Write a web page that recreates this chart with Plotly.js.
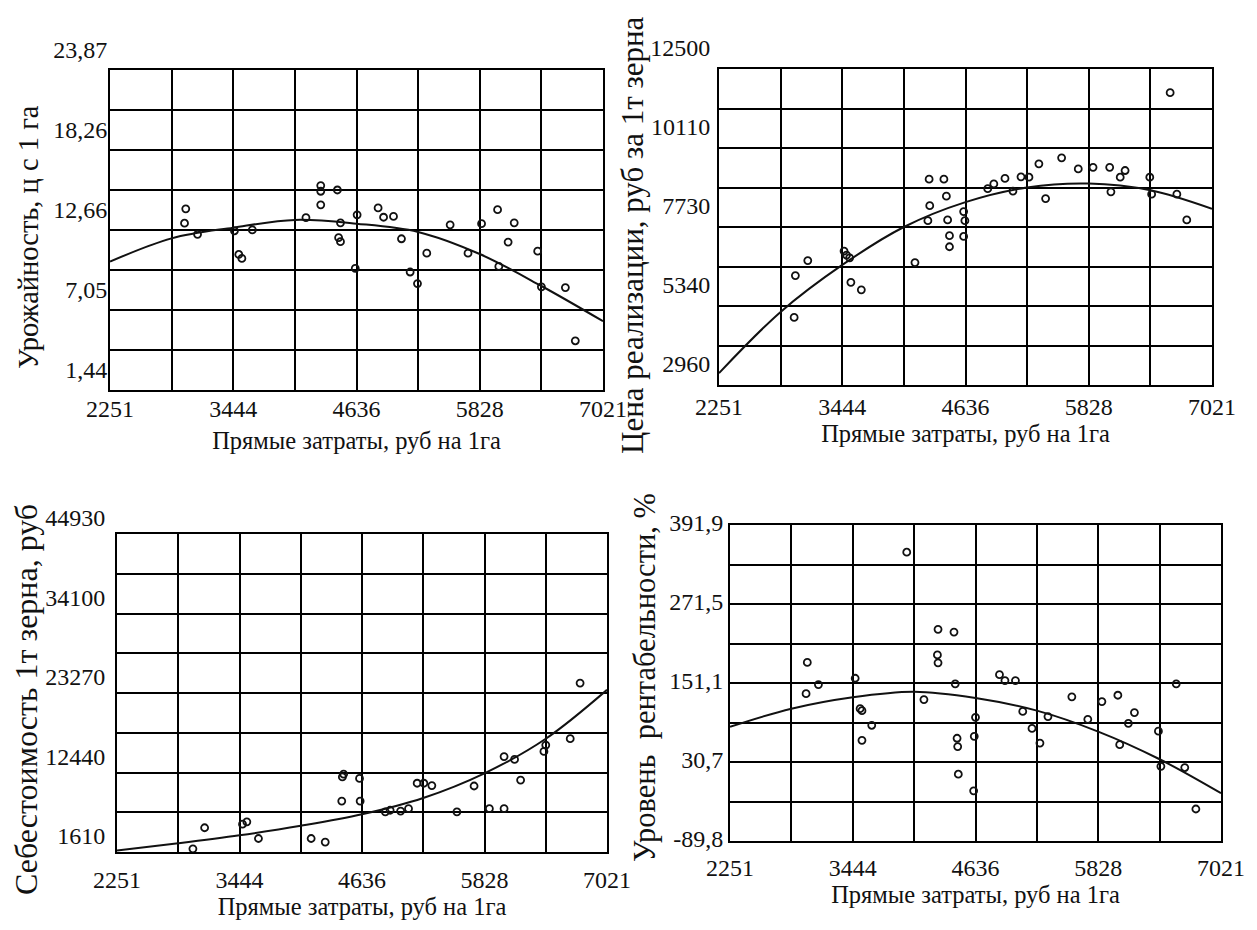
<!DOCTYPE html>
<html>
<head>
<meta charset="utf-8">
<script src="https://cdn.plot.ly/plotly-3.0.1.min.js"></script>
<style>html,body{margin:0;padding:0;background:#fff;}#chart{width:1257px;height:930px;}</style>
</head>
<body>
<div id="chart"></div>
<script>
// ---- shared x axis ----
const X_RANGE = [2251, 7021];
const X_TICK_LABELS = ['2251', '3444', '4636', '5828', '7021'];
const X_TITLE = 'Прямые затраты, руб на 1га';

// ---- chart 1: yield ----
const yieldRange = [1.44, 23.87];
const yieldTickLabels = ['1,44', '7,05', '12,66', '18,26', '23,87'];
const yieldTitle = 'Урожайность, ц с 1 га';
const yieldX = [2984, 2972, 3098, 3455, 3628, 3497, 3527, 4147, 4290, 4290, 4290, 4451, 4481, 4463, 4481, 4624, 4642, 4845, 4898, 4994, 5071, 5155, 5226, 5316, 5542, 5715, 5846, 6001, 6162, 6103, 6013, 6389, 6425, 6657, 6753];
const yieldY = [14.14, 13.13, 12.35, 12.60, 12.66, 10.94, 10.66, 13.52, 15.77, 15.37, 14.42, 15.46, 13.16, 12.12, 11.84, 9.96, 13.72, 14.20, 13.55, 13.61, 12.04, 9.71, 8.90, 11.03, 13.02, 11.03, 13.10, 14.08, 13.16, 11.81, 10.10, 11.17, 8.67, 8.62, 4.89];
const yieldTrendX = [2251, 2847, 3444, 4040, 4636, 5232, 5828, 6425, 7021];
const yieldTrendY = [10.44, 12.07, 12.82, 13.36, 13.10, 12.52, 10.97, 8.73, 6.26];

// ---- chart 2: sale price ----
const priceRange = [2960, 12500];
const priceTickLabels = ['2960', '5340', '7730', '10110', '12500'];
const priceTitle = 'Цена реализации, руб за 1т зерна';
const priceX = [2978, 2990, 3110, 3461, 3485, 3515, 3527, 3628, 4147, 4284, 4427, 4451, 4290, 4272, 4463, 4481, 4481, 4618, 4630, 4618, 4851, 4910, 5018, 5095, 5173, 5250, 5346, 5411, 5566, 5727, 5870, 6031, 6133, 6180, 6043, 6419, 6437, 6681, 6777, 6616];
const priceY = [5000, 6263, 6716, 7003, 6883, 6800, 6060, 5834, 6657, 9173, 9173, 8660, 8374, 7921, 7945, 7468, 7134, 8195, 7921, 7444, 8887, 9030, 9197, 8815, 9245, 9233, 9638, 8589, 9817, 9483, 9531, 9531, 9233, 9435, 8791, 9233, 8720, 8720, 7945, 11785];
const priceTrendX = [2251, 2847, 3444, 4040, 4636, 5232, 5828, 6425, 7021];
const priceTrendY = [3318, 5166, 6585, 7730, 8481, 8923, 9042, 8839, 8279];

// ---- chart 3: cost per tonne ----
const costRange = [1610, 44930];
const costTickLabels = ['1610', '12440', '23270', '34100', '44930'];
const costTitle = 'Себестоимость 1т зерна, руб';
const costX = [2990, 3104, 3473, 3515, 3628, 4141, 4278, 4445, 4457, 4612, 4439, 4618, 4863, 4910, 5012, 5089, 5173, 5238, 5316, 5560, 5727, 5876, 6019, 6019, 6121, 6180, 6407, 6425, 6663, 6759];
const costY = [2043, 4913, 5401, 5725, 3451, 3451, 2964, 11844, 12223, 11628, 8541, 8541, 7079, 7296, 7187, 7512, 10978, 10978, 10653, 7079, 10599, 7512, 7512, 14606, 14227, 11411, 15310, 16176, 17043, 24624];
const costTrendX = [2251, 2847, 3444, 4040, 4636, 5232, 5828, 6425, 7021];
const costTrendY = [1827, 2801, 3884, 5184, 6754, 8974, 12332, 17043, 23703];

// ---- chart 4: profitability ----
const profitRange = [-89.8, 391.9];
const profitTickLabels = ['-89,8', '30,7', '151,1', '271,5', '391,9'];
const profitTitle = 'Уровень  рентабельности, %';
const profitX = [3968, 3002, 2990, 3110, 3467, 3515, 3533, 3628, 3533, 4135, 4272, 4427, 4266, 4272, 4439, 4457, 4463, 4469, 4636, 4624, 4618, 4869, 4922, 5024, 5095, 5185, 5262, 5340, 5572, 5727, 5864, 6019, 6180, 6121, 6037, 6413, 6437, 6586, 6669, 6777];
const profitY = [350.4, 182.4, 134.8, 148.6, 158.3, 111.9, 108.9, 86.6, 63.7, 125.8, 232.9, 228.7, 193.8, 181.8, 149.8, 66.8, 54.1, 12.0, 98.7, 69.8, -13.3, 163.7, 154.7, 154.7, 107.7, 81.8, 59.5, 99.9, 130.0, 95.7, 122.7, 132.4, 105.9, 89.6, 57.1, 77.6, 24.0, 149.8, 22.2, -41.0];
const profitTrendX = [2251, 2847, 3444, 4040, 4636, 5232, 5828, 6425, 7021];
const profitTrendY = [84.2, 111.9, 129.4, 137.8, 128.2, 108.9, 77.0, 34.8, -17.0];

// ---- helpers ----
const FONT = 'Liberation Serif, Times New Roman, serif';
const INK = '#111';
function gridVals(r) { const v = []; for (let i = 0; i <= 8; i++) v.push(r[0] + (r[1] - r[0]) * i / 8); return v; }
function gridText(labels) { const t = []; labels.forEach((l, i) => { t.push(l); if (i < labels.length - 1) t.push(''); }); return t; }

function xAxis(domain, anchor, labelStandoff, titleStandoff) {
  return {
    domain: domain, anchor: anchor, range: X_RANGE.slice(), fixedrange: true,
    tickmode: 'array', tickvals: gridVals(X_RANGE), ticktext: gridText(X_TICK_LABELS),
    showgrid: true, gridcolor: '#000', gridwidth: 2, zeroline: false,
    showline: true, linecolor: '#000', linewidth: 2, mirror: true, ticks: '',
    ticklabelstandoff: labelStandoff,
    tickfont: {family: FONT, size: 24, color: INK},
    title: {text: X_TITLE, font: {family: FONT, size: 24.5, color: INK}, standoff: titleStandoff}
  };
}
function yAxis(domain, anchor, range, labels, shift, standoff) {
  return {
    domain: domain, anchor: anchor, range: range.slice(), fixedrange: true,
    tickmode: 'array', tickvals: gridVals(range), ticktext: gridText(labels),
    showgrid: true, gridcolor: '#000', gridwidth: 2, zeroline: false,
    showline: true, linecolor: '#000', linewidth: 2, mirror: true, ticks: '',
    ticklabelshift: shift, ticklabelstandoff: standoff,
    tickfont: {family: FONT, size: 24, color: INK}
  };
}
function pts(x, y, xa, ya) {
  return {x: x, y: y, xaxis: xa, yaxis: ya, mode: 'markers', type: 'scatter', showlegend: false, hoverinfo: 'skip',
    marker: {symbol: 'circle-open', size: 7, color: INK, line: {width: 1.8, color: INK}}};
}
function trend(x, y, xa, ya) {
  return {x: x, y: y, xaxis: xa, yaxis: ya, mode: 'lines', type: 'scatter', showlegend: false, hoverinfo: 'skip',
    line: {shape: 'spline', smoothing: 1, color: INK, width: 2}};
}

const W = 1257, H = 930;
const dx = (a, b) => [a / W, b / W];
const dy = (top, bottom) => [1 - bottom / H, 1 - top / H];
function yTitle(text, px, py, size) {
  return {text: text, xref: 'paper', yref: 'paper', x: px / W, y: 1 - py / H, xanchor: 'center', yanchor: 'middle',
    textangle: -90, showarrow: false, font: {family: FONT, size: size, color: INK}};
}

const data = [
  trend(yieldTrendX, yieldTrendY, 'x', 'y'), pts(yieldX, yieldY, 'x', 'y'),
  trend(priceTrendX, priceTrendY, 'x2', 'y2'), pts(priceX, priceY, 'x2', 'y2'),
  trend(costTrendX, costTrendY, 'x3', 'y3'), pts(costX, costY, 'x3', 'y3'),
  trend(profitTrendX, profitTrendY, 'x4', 'y4'), pts(profitX, profitY, 'x4', 'y4')
];

const layout = {
  width: W, height: H, margin: {l: 0, r: 0, t: 0, b: 0},
  paper_bgcolor: '#fff', plot_bgcolor: '#fff', showlegend: false,
  xaxis:  xAxis(dx(110, 603), 'y', -4, 11),
  yaxis:  yAxis(dy(70, 390), 'x', yieldRange, yieldTickLabels, -20, -4),
  xaxis2: xAxis(dx(719, 1212), 'y2', -1, 6),
  yaxis2: yAxis(dy(69, 385), 'x2', priceRange, priceTickLabels, -21, 2),
  xaxis3: xAxis(dx(117, 607), 'y3', 5, 6),
  yaxis3: yAxis(dy(534, 852), 'x3', costRange, costTickLabels, -16, 5),
  xaxis4: xAxis(dx(730, 1221), 'y4', 4, 6),
  yaxis4: yAxis(dy(525, 841), 'x4', profitRange, profitTickLabels, -2, 0),
  annotations: [
    yTitle(yieldTitle, 28, 237, 28.5),
    yTitle(priceTitle, 632, 235, 31),
    yTitle(costTitle, 26, 700, 32),
    yTitle(profitTitle, 645, 678, 30.5)
  ]
};

Plotly.newPlot('chart', data, layout, {displayModeBar: false, staticPlot: true});
</script>
</body>
</html>
